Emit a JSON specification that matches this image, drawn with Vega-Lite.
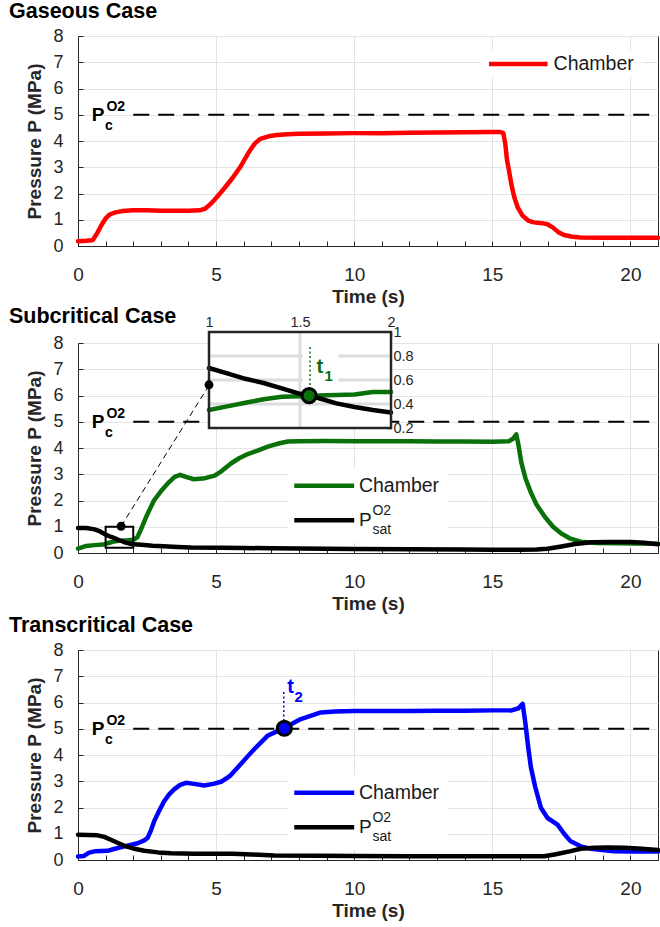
{
  "$schema": "https://vega.github.io/schema/vega-lite/v6.json",
  "background": "white",
  "padding": {"left": 8, "top": 0, "right": 3, "bottom": 5},
  "autosize": {"type": "pad"},
  "spacing": 97,
  "bounds": "flush",
  "config": {
    "font": "Liberation Sans",
    "view": {"stroke": "#262626", "strokeWidth": 1},
    "axis": {
      "labelFont": "Liberation Sans", "labelFontSize": 18, "labelColor": "#262626",
      "labelFlush": false, "labelOverlap": false, "labelBound": false,
      "titleFont": "Liberation Sans", "titleFontSize": 19, "titleFontWeight": "bold", "titleColor": "#262626",
      "domainColor": "#262626", "domainWidth": 1, "tickColor": "#262626", "tickSize": -5, "tickWidth": 1,
      "gridColor": "#e3e3e3", "gridWidth": 1
    },
    "axisX": {"labelPadding": 24, "titlePadding": 3, "labelFontSize": 19},
    "axisY": {"labelPadding": 20, "titlePadding": 8},
    "title": {"font": "Liberation Sans", "fontSize": 21.5, "fontWeight": "bold", "color": "black", "anchor": "start", "frame": "group", "dx": -69, "offset": 5},
    "line": {"strokeJoin": "round", "strokeCap": "round"}
  },
  "datasets": {
    "gas": [
      {"t":0,"p":0.18,"s":"Chamber"},{"t":0.3,"p":0.2,"s":"Chamber"},{"t":0.5,"p":0.22,"s":"Chamber"},{"t":0.55,"p":0.25,"s":"Chamber"},
      {"t":0.7,"p":0.5,"s":"Chamber"},{"t":0.85,"p":0.8,"s":"Chamber"},{"t":1.0,"p":1.05,"s":"Chamber"},{"t":1.15,"p":1.2,"s":"Chamber"},
      {"t":1.35,"p":1.28,"s":"Chamber"},{"t":1.6,"p":1.33,"s":"Chamber"},{"t":2.0,"p":1.36,"s":"Chamber"},{"t":2.5,"p":1.36,"s":"Chamber"},
      {"t":3.0,"p":1.34,"s":"Chamber"},{"t":3.5,"p":1.34,"s":"Chamber"},{"t":4.0,"p":1.34,"s":"Chamber"},{"t":4.4,"p":1.36,"s":"Chamber"},
      {"t":4.6,"p":1.42,"s":"Chamber"},{"t":4.8,"p":1.6,"s":"Chamber"},{"t":5.0,"p":1.83,"s":"Chamber"},{"t":5.3,"p":2.2,"s":"Chamber"},
      {"t":5.6,"p":2.6,"s":"Chamber"},{"t":5.9,"p":3.05,"s":"Chamber"},{"t":6.2,"p":3.6,"s":"Chamber"},{"t":6.4,"p":3.9,"s":"Chamber"},
      {"t":6.6,"p":4.08,"s":"Chamber"},{"t":6.9,"p":4.18,"s":"Chamber"},{"t":7.2,"p":4.23,"s":"Chamber"},{"t":7.6,"p":4.26,"s":"Chamber"},
      {"t":8.0,"p":4.28,"s":"Chamber"},{"t":9.0,"p":4.29,"s":"Chamber"},{"t":10,"p":4.3,"s":"Chamber"},{"t":11,"p":4.3,"s":"Chamber"},
      {"t":12,"p":4.31,"s":"Chamber"},{"t":13,"p":4.32,"s":"Chamber"},{"t":14,"p":4.33,"s":"Chamber"},{"t":15,"p":4.34,"s":"Chamber"},
      {"t":15.3,"p":4.34,"s":"Chamber"},{"t":15.4,"p":4.3,"s":"Chamber"},{"t":15.47,"p":3.9,"s":"Chamber"},{"t":15.53,"p":3.3,"s":"Chamber"},
      {"t":15.6,"p":2.9,"s":"Chamber"},{"t":15.7,"p":2.3,"s":"Chamber"},{"t":15.8,"p":1.85,"s":"Chamber"},{"t":15.93,"p":1.45,"s":"Chamber"},
      {"t":16.1,"p":1.15,"s":"Chamber"},{"t":16.3,"p":0.97,"s":"Chamber"},{"t":16.5,"p":0.9,"s":"Chamber"},{"t":16.8,"p":0.87,"s":"Chamber"},
      {"t":17.0,"p":0.83,"s":"Chamber"},{"t":17.2,"p":0.7,"s":"Chamber"},{"t":17.4,"p":0.52,"s":"Chamber"},{"t":17.6,"p":0.42,"s":"Chamber"},
      {"t":17.9,"p":0.35,"s":"Chamber"},{"t":18.2,"p":0.32,"s":"Chamber"},{"t":19,"p":0.31,"s":"Chamber"},{"t":20,"p":0.31,"s":"Chamber"},
      {"t":21,"p":0.31,"s":"Chamber"}
    ],
    "sub": [
      {"t":0,"p":0.17,"s":"Chamber"},{"t":0.3,"p":0.27,"s":"Chamber"},{"t":0.6,"p":0.3,"s":"Chamber"},{"t":0.9,"p":0.32,"s":"Chamber"},
      {"t":1.0,"p":0.35,"s":"Chamber"},{"t":1.1,"p":0.38,"s":"Chamber"},{"t":1.2,"p":0.41,"s":"Chamber"},{"t":1.3,"p":0.44,"s":"Chamber"},
      {"t":1.4,"p":0.46,"s":"Chamber"},{"t":1.5,"p":0.465,"s":"Chamber"},{"t":1.6,"p":0.47,"s":"Chamber"},{"t":1.7,"p":0.475,"s":"Chamber"},
      {"t":1.8,"p":0.48,"s":"Chamber"},{"t":1.9,"p":0.5,"s":"Chamber"},{"t":2.0,"p":0.5,"s":"Chamber"},{"t":2.15,"p":0.6,"s":"Chamber"},
      {"t":2.3,"p":0.95,"s":"Chamber"},{"t":2.5,"p":1.45,"s":"Chamber"},{"t":2.75,"p":2.0,"s":"Chamber"},{"t":3.0,"p":2.35,"s":"Chamber"},
      {"t":3.25,"p":2.65,"s":"Chamber"},{"t":3.5,"p":2.9,"s":"Chamber"},{"t":3.7,"p":2.98,"s":"Chamber"},{"t":3.9,"p":2.9,"s":"Chamber"},
      {"t":4.2,"p":2.81,"s":"Chamber"},{"t":4.6,"p":2.85,"s":"Chamber"},{"t":4.95,"p":2.95,"s":"Chamber"},{"t":5.2,"p":3.12,"s":"Chamber"},
      {"t":5.55,"p":3.42,"s":"Chamber"},{"t":5.85,"p":3.62,"s":"Chamber"},{"t":6.15,"p":3.77,"s":"Chamber"},{"t":6.5,"p":3.9,"s":"Chamber"},
      {"t":6.9,"p":4.06,"s":"Chamber"},{"t":7.3,"p":4.18,"s":"Chamber"},{"t":7.6,"p":4.25,"s":"Chamber"},{"t":8,"p":4.26,"s":"Chamber"},
      {"t":9,"p":4.27,"s":"Chamber"},{"t":10,"p":4.26,"s":"Chamber"},{"t":11,"p":4.26,"s":"Chamber"},{"t":12,"p":4.26,"s":"Chamber"},
      {"t":13,"p":4.25,"s":"Chamber"},{"t":14,"p":4.25,"s":"Chamber"},{"t":15,"p":4.24,"s":"Chamber"},{"t":15.6,"p":4.26,"s":"Chamber"},
      {"t":15.75,"p":4.35,"s":"Chamber"},{"t":15.87,"p":4.52,"s":"Chamber"},{"t":15.95,"p":4.1,"s":"Chamber"},{"t":16.05,"p":3.45,"s":"Chamber"},
      {"t":16.2,"p":2.85,"s":"Chamber"},{"t":16.4,"p":2.3,"s":"Chamber"},{"t":16.6,"p":1.85,"s":"Chamber"},{"t":16.9,"p":1.38,"s":"Chamber"},
      {"t":17.2,"p":1.0,"s":"Chamber"},{"t":17.5,"p":0.74,"s":"Chamber"},{"t":17.8,"p":0.56,"s":"Chamber"},{"t":18.2,"p":0.43,"s":"Chamber"},
      {"t":18.8,"p":0.38,"s":"Chamber"},{"t":19.5,"p":0.37,"s":"Chamber"},{"t":20.2,"p":0.36,"s":"Chamber"},{"t":21,"p":0.35,"s":"Chamber"},
      {"t":0,"p":0.95,"s":"Psat"},{"t":0.3,"p":0.95,"s":"Psat"},{"t":0.6,"p":0.9,"s":"Psat"},{"t":0.8,"p":0.82,"s":"Psat"},
      {"t":1.0,"p":0.7,"s":"Psat"},{"t":1.1,"p":0.655,"s":"Psat"},{"t":1.2,"p":0.61,"s":"Psat"},{"t":1.3,"p":0.575,"s":"Psat"},
      {"t":1.4,"p":0.53,"s":"Psat"},{"t":1.5,"p":0.485,"s":"Psat"},{"t":1.6,"p":0.45,"s":"Psat"},{"t":1.7,"p":0.405,"s":"Psat"},
      {"t":1.8,"p":0.375,"s":"Psat"},{"t":1.9,"p":0.35,"s":"Psat"},{"t":2.0,"p":0.33,"s":"Psat"},{"t":2.3,"p":0.31,"s":"Psat"},
      {"t":2.7,"p":0.28,"s":"Psat"},{"t":3.1,"p":0.26,"s":"Psat"},{"t":3.6,"p":0.23,"s":"Psat"},{"t":4.1,"p":0.21,"s":"Psat"},
      {"t":5.2,"p":0.2,"s":"Psat"},{"t":6,"p":0.19,"s":"Psat"},{"t":7,"p":0.18,"s":"Psat"},{"t":8,"p":0.17,"s":"Psat"},
      {"t":10,"p":0.15,"s":"Psat"},{"t":12,"p":0.14,"s":"Psat"},{"t":14,"p":0.13,"s":"Psat"},{"t":15,"p":0.12,"s":"Psat"},
      {"t":16,"p":0.12,"s":"Psat"},{"t":16.6,"p":0.13,"s":"Psat"},{"t":17,"p":0.16,"s":"Psat"},{"t":17.5,"p":0.25,"s":"Psat"},
      {"t":18,"p":0.34,"s":"Psat"},{"t":18.6,"p":0.41,"s":"Psat"},{"t":19.2,"p":0.42,"s":"Psat"},{"t":20,"p":0.42,"s":"Psat"},
      {"t":20.5,"p":0.39,"s":"Psat"},{"t":21,"p":0.33,"s":"Psat"}
    ],
    "trans": [
      {"t":0,"p":0.13,"s":"Chamber"},{"t":0.2,"p":0.15,"s":"Chamber"},{"t":0.4,"p":0.28,"s":"Chamber"},{"t":0.6,"p":0.33,"s":"Chamber"},
      {"t":1.07,"p":0.35,"s":"Chamber"},{"t":1.3,"p":0.42,"s":"Chamber"},{"t":1.68,"p":0.52,"s":"Chamber"},{"t":2.16,"p":0.64,"s":"Chamber"},
      {"t":2.4,"p":0.75,"s":"Chamber"},{"t":2.52,"p":0.84,"s":"Chamber"},{"t":2.65,"p":1.15,"s":"Chamber"},{"t":2.76,"p":1.48,"s":"Chamber"},
      {"t":2.95,"p":1.9,"s":"Chamber"},{"t":3.12,"p":2.24,"s":"Chamber"},{"t":3.3,"p":2.5,"s":"Chamber"},{"t":3.48,"p":2.69,"s":"Chamber"},
      {"t":3.7,"p":2.86,"s":"Chamber"},{"t":3.91,"p":2.94,"s":"Chamber"},{"t":4.2,"p":2.9,"s":"Chamber"},{"t":4.57,"p":2.84,"s":"Chamber"},
      {"t":4.9,"p":2.9,"s":"Chamber"},{"t":5.18,"p":2.98,"s":"Chamber"},{"t":5.5,"p":3.2,"s":"Chamber"},{"t":5.78,"p":3.52,"s":"Chamber"},
      {"t":6.1,"p":3.9,"s":"Chamber"},{"t":6.38,"p":4.22,"s":"Chamber"},{"t":6.6,"p":4.45,"s":"Chamber"},{"t":6.86,"p":4.73,"s":"Chamber"},
      {"t":7.2,"p":4.9,"s":"Chamber"},{"t":7.47,"p":5.03,"s":"Chamber"},{"t":7.8,"p":5.22,"s":"Chamber"},{"t":8.07,"p":5.37,"s":"Chamber"},
      {"t":8.5,"p":5.52,"s":"Chamber"},{"t":8.79,"p":5.62,"s":"Chamber"},{"t":9.3,"p":5.66,"s":"Chamber"},{"t":10,"p":5.68,"s":"Chamber"},
      {"t":11,"p":5.68,"s":"Chamber"},{"t":12,"p":5.68,"s":"Chamber"},{"t":13,"p":5.69,"s":"Chamber"},{"t":14,"p":5.69,"s":"Chamber"},
      {"t":15,"p":5.7,"s":"Chamber"},{"t":15.7,"p":5.7,"s":"Chamber"},{"t":15.95,"p":5.78,"s":"Chamber"},{"t":16.1,"p":5.95,"s":"Chamber"},
      {"t":16.2,"p":5.2,"s":"Chamber"},{"t":16.3,"p":4.3,"s":"Chamber"},{"t":16.4,"p":3.52,"s":"Chamber"},{"t":16.55,"p":2.8,"s":"Chamber"},
      {"t":16.76,"p":1.99,"s":"Chamber"},{"t":17.0,"p":1.6,"s":"Chamber"},{"t":17.36,"p":1.35,"s":"Chamber"},{"t":17.6,"p":1.0,"s":"Chamber"},
      {"t":17.84,"p":0.71,"s":"Chamber"},{"t":18.2,"p":0.52,"s":"Chamber"},{"t":18.57,"p":0.43,"s":"Chamber"},{"t":19.4,"p":0.33,"s":"Chamber"},
      {"t":20,"p":0.32,"s":"Chamber"},{"t":21,"p":0.32,"s":"Chamber"},
      {"t":0,"p":0.96,"s":"Psat"},{"t":0.71,"p":0.94,"s":"Psat"},{"t":0.95,"p":0.88,"s":"Psat"},{"t":1.19,"p":0.77,"s":"Psat"},
      {"t":1.45,"p":0.65,"s":"Psat"},{"t":1.68,"p":0.54,"s":"Psat"},{"t":2.0,"p":0.44,"s":"Psat"},{"t":2.4,"p":0.35,"s":"Psat"},
      {"t":2.9,"p":0.29,"s":"Psat"},{"t":3.37,"p":0.26,"s":"Psat"},{"t":4.2,"p":0.24,"s":"Psat"},{"t":5.6,"p":0.24,"s":"Psat"},
      {"t":6.3,"p":0.21,"s":"Psat"},{"t":7.1,"p":0.17,"s":"Psat"},{"t":8.8,"p":0.16,"s":"Psat"},{"t":10,"p":0.15,"s":"Psat"},
      {"t":12,"p":0.14,"s":"Psat"},{"t":14,"p":0.14,"s":"Psat"},{"t":16,"p":0.14,"s":"Psat"},{"t":16.88,"p":0.14,"s":"Psat"},
      {"t":17.3,"p":0.22,"s":"Psat"},{"t":17.8,"p":0.33,"s":"Psat"},{"t":18.2,"p":0.43,"s":"Psat"},{"t":18.7,"p":0.47,"s":"Psat"},
      {"t":19.17,"p":0.48,"s":"Psat"},{"t":19.8,"p":0.47,"s":"Psat"},{"t":20.4,"p":0.43,"s":"Psat"},{"t":21,"p":0.38,"s":"Psat"}
    ]
  },
  "vconcat": [
    {
      "width": 580, "height": 210,
      "title": {"text": "Gaseous Case"},
      "layer": [
        {"data": {"name": "gas"}, "mark": {"type": "line", "strokeWidth": 4.5, "color": "#ff0000"},
         "encoding": {
           "x": {"field": "t", "type": "quantitative", "scale": {"domain": [0, 21], "nice": false, "zero": false},
                 "axis": {"title": "Time (s)", "format": "d", "tickCount": 30, "values": [0,1,2,3,4,5,6,7,8,9,10,11,12,13,14,15,16,17,18,19,20,21], "labelExpr": "datum.value % 5 === 0 ? datum.label : ''", "gridOpacity": {"condition": {"test": "datum.value % 5 === 0", "value": 1}, "value": 0}}},
           "y": {"field": "p", "type": "quantitative", "scale": {"domain": [0, 8], "nice": false, "zero": false},
                 "axis": {"title": "Pressure P (MPa)", "format": "d", "tickCount": 12, "values": [0,1,2,3,4,5,6,7,8]}}
         }},
        {"data": {"values": [{}]}, "mark": {"type": "rule", "strokeWidth": 2, "strokeDash": [16, 9], "color": "black"},
         "encoding": {"x": {"datum": 2.0}, "x2": {"datum": 21}, "y": {"datum": 5}}},
        {"data": {"values": [{}]}, "mark": {"type": "text", "text": "P", "fontSize": 19, "fontWeight": "bold", "align": "left", "baseline": "middle", "color": "black"},
         "encoding": {"x": {"datum": 0.5}, "y": {"datum": 5.0}}},
        {"data": {"values": [{}]}, "mark": {"type": "text", "text": "c", "fontSize": 14, "fontWeight": "bold", "align": "left", "baseline": "middle", "color": "black"},
         "encoding": {"x": {"datum": 0.98}, "y": {"datum": 4.58}}},
        {"data": {"values": [{}]}, "mark": {"type": "text", "text": "O2", "fontSize": 14, "fontWeight": "bold", "align": "left", "baseline": "middle", "color": "black"},
         "encoding": {"x": {"datum": 1.03}, "y": {"datum": 5.3}}},
        {"data": {"values": [{}]}, "mark": {"type": "rect", "fill": "white"},
         "encoding": {"x": {"datum": 14.6}, "x2": {"datum": 20.4}, "y": {"datum": 6.45}, "y2": {"datum": 7.45}}},
        {"data": {"values": [{}]}, "mark": {"type": "rule", "strokeWidth": 4.5, "color": "#ff0000"},
         "encoding": {"x": {"datum": 14.88}, "x2": {"datum": 17.0}, "y": {"datum": 6.93}}},
        {"data": {"values": [{}]}, "mark": {"type": "text", "text": "Chamber", "fontSize": 19.5, "align": "left", "baseline": "middle", "color": "#1a1a1a"},
         "encoding": {"x": {"datum": 17.22}, "y": {"datum": 6.93}}}
      ]
    },
    {
      "width": 580, "height": 210,
      "title": {"text": "Subcritical Case", "dy": 18},
      "resolve": {"scale": {"x": "independent", "y": "independent", "color": "independent"}},
      "layer": [
        {
          "layer": [
            {"data": {"name": "sub"}, "mark": {"type": "line", "strokeWidth": 4.5},
             "encoding": {
               "x": {"field": "t", "type": "quantitative", "scale": {"domain": [0, 21], "nice": false, "zero": false},
                     "axis": {"title": "Time (s)", "format": "d", "tickCount": 30, "values": [0,1,2,3,4,5,6,7,8,9,10,11,12,13,14,15,16,17,18,19,20,21], "labelExpr": "datum.value % 5 === 0 ? datum.label : ''", "gridOpacity": {"condition": {"test": "datum.value % 5 === 0", "value": 1}, "value": 0}}},
               "y": {"field": "p", "type": "quantitative", "scale": {"domain": [0, 8], "nice": false, "zero": false},
                     "axis": {"title": "Pressure P (MPa)", "format": "d", "tickCount": 12, "values": [0,1,2,3,4,5,6,7,8]}},
               "color": {"field": "s", "type": "nominal", "scale": {"domain": ["Chamber", "Psat"], "range": ["#0a700a", "#000000"]}, "legend": null}
             }},
            {"data": {"values": [{}]}, "mark": {"type": "rule", "strokeWidth": 2, "strokeDash": [16, 9], "color": "black"},
             "encoding": {"x": {"datum": 2.0}, "x2": {"datum": 21}, "y": {"datum": 5}}},
            {"data": {"values": [{}]}, "mark": {"type": "text", "text": "P", "fontSize": 19, "fontWeight": "bold", "align": "left", "baseline": "middle", "color": "black"},
             "encoding": {"x": {"datum": 0.5}, "y": {"datum": 5.0}}},
            {"data": {"values": [{}]}, "mark": {"type": "text", "text": "c", "fontSize": 14, "fontWeight": "bold", "align": "left", "baseline": "middle", "color": "black"},
             "encoding": {"x": {"datum": 0.98}, "y": {"datum": 4.58}}},
            {"data": {"values": [{}]}, "mark": {"type": "text", "text": "O2", "fontSize": 14, "fontWeight": "bold", "align": "left", "baseline": "middle", "color": "black"},
             "encoding": {"x": {"datum": 1.03}, "y": {"datum": 5.3}}},
            {"data": {"values": [{}]}, "mark": {"type": "rect", "fill": "white"},
             "encoding": {"x": {"datum": 7.6}, "x2": {"datum": 13.4}, "y": {"datum": 0.4}, "y2": {"datum": 3.25}}},
            {"data": {"values": [{}]}, "mark": {"type": "rule", "strokeWidth": 4.5, "color": "#0a700a"},
             "encoding": {"x": {"datum": 7.83}, "x2": {"datum": 10.0}, "y": {"datum": 2.56}}},
            {"data": {"values": [{}]}, "mark": {"type": "rule", "strokeWidth": 4.5, "color": "black"},
             "encoding": {"x": {"datum": 7.83}, "x2": {"datum": 10.0}, "y": {"datum": 1.25}}},
            {"data": {"values": [{}]}, "mark": {"type": "text", "text": "Chamber", "fontSize": 19.5, "align": "left", "baseline": "middle", "color": "#1a1a1a"},
             "encoding": {"x": {"datum": 10.17}, "y": {"datum": 2.56}}},
            {"data": {"values": [{}]}, "mark": {"type": "text", "text": "P", "fontSize": 19, "align": "left", "baseline": "middle", "color": "#1a1a1a"},
             "encoding": {"x": {"datum": 10.17}, "y": {"datum": 1.25}}},
            {"data": {"values": [{}]}, "mark": {"type": "text", "text": "O2", "fontSize": 14, "align": "left", "baseline": "middle", "color": "#1a1a1a"},
             "encoding": {"x": {"datum": 10.66}, "y": {"datum": 1.6}}},
            {"data": {"values": [{}]}, "mark": {"type": "text", "text": "sat", "fontSize": 14, "align": "left", "baseline": "middle", "color": "#1a1a1a"},
             "encoding": {"x": {"datum": 10.66}, "y": {"datum": 0.86}}},
            {"data": {"values": [{}]}, "mark": {"type": "rect", "fill": null, "stroke": "black", "strokeWidth": 2},
             "encoding": {"x": {"datum": 1}, "x2": {"datum": 2}, "y": {"datum": 0.2}, "y2": {"datum": 1.0}}},
            {"data": {"values": [{}]}, "mark": {"type": "rule", "strokeWidth": 1, "strokeDash": [6, 4], "color": "black"},
             "encoding": {"x": {"datum": 1.56}, "y": {"datum": 1.02}, "x2": {"datum": 4.75}, "y2": {"datum": 6.4}}},
            {"data": {"values": [{}]}, "mark": {"type": "point", "filled": true, "size": 80, "color": "black", "opacity": 1},
             "encoding": {"x": {"datum": 1.56}, "y": {"datum": 1.02}}}
          ]
        },
        {
          "layer": [
            {"data": {"values": [{}]}, "mark": {"type": "rect", "fill": "white"},
             "encoding": {
               "x": {"datum": 1, "type": "quantitative", "scale": {"domain": [1, 2], "range": [131, 313], "nice": false, "zero": false},
                     "axis": {"orient": "top", "offset": 11, "values": [1, 1.5, 2], "format": "~g", "title": null, "grid": false, "domain": false, "labelFontSize": 14.5, "tickSize": -4, "tickWidth": 1.5, "labelPadding": 7}},
               "x2": {"datum": 2},
               "y": {"datum": 0.2, "type": "quantitative", "scale": {"domain": [0.2, 1], "range": [85, -11], "nice": false, "zero": false},
                     "axis": {"orient": "right", "offset": -267, "values": [0.2, 0.4, 0.6, 0.8, 1], "tickCount": 10, "format": "~g", "title": null, "grid": false, "domain": false, "labelFontSize": 14.5, "tickSize": -4, "tickWidth": 1.5, "labelPadding": 6}},
               "y2": {"datum": 1}
             }},
            {"data": {"values": [{"g": 0.4}, {"g": 0.6}, {"g": 0.8}]}, "mark": {"type": "rule", "strokeWidth": 3, "color": "#dcdcdc"},
             "encoding": {"x": {"datum": 1}, "x2": {"datum": 2}, "y": {"field": "g", "type": "quantitative"}}},
            {"data": {"values": [{}]}, "mark": {"type": "rule", "strokeWidth": 3, "color": "#dcdcdc"},
             "encoding": {"x": {"datum": 1.5}, "y": {"datum": 0.2}, "y2": {"datum": 1}}},
            {"data": {"values": [{}]}, "mark": {"type": "rect", "fill": "white"},
             "encoding": {"x": {"datum": 1.515}, "x2": {"datum": 1.71}, "y": {"datum": 0.56}, "y2": {"datum": 0.86}}},
            {"data": {"name": "sub"}, "transform": [{"filter": "datum.t >= 1 && datum.t <= 2"}],
             "mark": {"type": "line", "strokeWidth": 4.5},
             "encoding": {
               "x": {"field": "t", "type": "quantitative"},
               "y": {"field": "p", "type": "quantitative"},
               "color": {"field": "s", "type": "nominal", "scale": {"domain": ["Chamber", "Psat"], "range": ["#0a700a", "#000000"]}, "legend": null}
             }},
            {"data": {"values": [{}]}, "mark": {"type": "rule", "strokeWidth": 1.5, "strokeDash": [2, 2.5], "color": "#0a700a"},
             "encoding": {"x": {"datum": 1.555}, "y": {"datum": 0.52}, "y2": {"datum": 0.89}}},
            {"data": {"values": [{}]}, "mark": {"type": "point", "filled": true, "size": 200, "fill": "#0a700a", "stroke": "black", "strokeWidth": 3, "opacity": 1},
             "encoding": {"x": {"datum": 1.55}, "y": {"datum": 0.47}}},
            {"data": {"values": [{}]}, "mark": {"type": "text", "text": "t", "fontSize": 20, "fontWeight": "bold", "align": "left", "baseline": "middle", "color": "#0a700a"},
             "encoding": {"x": {"datum": 1.59}, "y": {"datum": 0.71}}},
            {"data": {"values": [{}]}, "mark": {"type": "text", "text": "1", "fontSize": 15, "fontWeight": "bold", "align": "left", "baseline": "middle", "color": "#0a700a"},
             "encoding": {"x": {"datum": 1.634}, "y": {"datum": 0.63}}},
            {"data": {"values": [{}]}, "mark": {"type": "rect", "fill": null, "stroke": "#262626", "strokeWidth": 2.5},
             "encoding": {"x": {"datum": 1}, "x2": {"datum": 2}, "y": {"datum": 0.2}, "y2": {"datum": 1}}},
            {"data": {"values": [{}]}, "mark": {"type": "point", "filled": true, "size": 80, "color": "black", "opacity": 1},
             "encoding": {"x": {"datum": 1.0}, "y": {"datum": 0.56}}}
          ]
        }
      ]
    },
    {
      "width": 580, "height": 210,
      "title": {"text": "Transcritical Case"},
      "layer": [
        {"data": {"name": "trans"}, "mark": {"type": "line", "strokeWidth": 4.5},
         "encoding": {
           "x": {"field": "t", "type": "quantitative", "scale": {"domain": [0, 21], "nice": false, "zero": false},
                 "axis": {"title": "Time (s)", "format": "d", "tickCount": 30, "values": [0,1,2,3,4,5,6,7,8,9,10,11,12,13,14,15,16,17,18,19,20,21], "labelExpr": "datum.value % 5 === 0 ? datum.label : ''", "gridOpacity": {"condition": {"test": "datum.value % 5 === 0", "value": 1}, "value": 0}}},
           "y": {"field": "p", "type": "quantitative", "scale": {"domain": [0, 8], "nice": false, "zero": false},
                 "axis": {"title": "Pressure P (MPa)", "format": "d", "tickCount": 12, "values": [0,1,2,3,4,5,6,7,8]}},
           "color": {"field": "s", "type": "nominal", "scale": {"domain": ["Chamber", "Psat"], "range": ["#0000ff", "#000000"]}, "legend": null}
         }},
        {"data": {"values": [{}]}, "mark": {"type": "rule", "strokeWidth": 2, "strokeDash": [16, 9], "color": "black"},
         "encoding": {"x": {"datum": 2.0}, "x2": {"datum": 21}, "y": {"datum": 5}}},
        {"data": {"values": [{}]}, "mark": {"type": "text", "text": "P", "fontSize": 19, "fontWeight": "bold", "align": "left", "baseline": "middle", "color": "black"},
         "encoding": {"x": {"datum": 0.5}, "y": {"datum": 5.0}}},
        {"data": {"values": [{}]}, "mark": {"type": "text", "text": "c", "fontSize": 14, "fontWeight": "bold", "align": "left", "baseline": "middle", "color": "black"},
         "encoding": {"x": {"datum": 0.98}, "y": {"datum": 4.58}}},
        {"data": {"values": [{}]}, "mark": {"type": "text", "text": "O2", "fontSize": 14, "fontWeight": "bold", "align": "left", "baseline": "middle", "color": "black"},
         "encoding": {"x": {"datum": 1.03}, "y": {"datum": 5.3}}},
        {"data": {"values": [{}]}, "mark": {"type": "rule", "strokeWidth": 1.5, "strokeDash": [2, 2.5], "color": "#0000ff"},
         "encoding": {"x": {"datum": 7.45}, "y": {"datum": 5.3}, "y2": {"datum": 6.45}}},
        {"data": {"values": [{}]}, "mark": {"type": "point", "filled": true, "size": 200, "fill": "#0000ff", "stroke": "black", "strokeWidth": 3, "opacity": 1},
         "encoding": {"x": {"datum": 7.47}, "y": {"datum": 5.02}}},
        {"data": {"values": [{}]}, "mark": {"type": "text", "text": "t", "fontSize": 20, "fontWeight": "bold", "align": "left", "baseline": "middle", "color": "#0000ff"},
         "encoding": {"x": {"datum": 7.58}, "y": {"datum": 6.58}}},
        {"data": {"values": [{}]}, "mark": {"type": "text", "text": "2", "fontSize": 15, "fontWeight": "bold", "align": "left", "baseline": "middle", "color": "#0000ff"},
         "encoding": {"x": {"datum": 7.84}, "y": {"datum": 6.2}}},
        {"data": {"values": [{}]}, "mark": {"type": "rect", "fill": "white"},
         "encoding": {"x": {"datum": 7.6}, "x2": {"datum": 13.4}, "y": {"datum": 0.4}, "y2": {"datum": 3.25}}},
        {"data": {"values": [{}]}, "mark": {"type": "rule", "strokeWidth": 4.5, "color": "#0000ff"},
         "encoding": {"x": {"datum": 7.83}, "x2": {"datum": 10.0}, "y": {"datum": 2.56}}},
        {"data": {"values": [{}]}, "mark": {"type": "rule", "strokeWidth": 4.5, "color": "black"},
         "encoding": {"x": {"datum": 7.83}, "x2": {"datum": 10.0}, "y": {"datum": 1.25}}},
        {"data": {"values": [{}]}, "mark": {"type": "text", "text": "Chamber", "fontSize": 19.5, "align": "left", "baseline": "middle", "color": "#1a1a1a"},
         "encoding": {"x": {"datum": 10.17}, "y": {"datum": 2.56}}},
        {"data": {"values": [{}]}, "mark": {"type": "text", "text": "P", "fontSize": 19, "align": "left", "baseline": "middle", "color": "#1a1a1a"},
         "encoding": {"x": {"datum": 10.17}, "y": {"datum": 1.25}}},
        {"data": {"values": [{}]}, "mark": {"type": "text", "text": "O2", "fontSize": 14, "align": "left", "baseline": "middle", "color": "#1a1a1a"},
         "encoding": {"x": {"datum": 10.66}, "y": {"datum": 1.6}}},
        {"data": {"values": [{}]}, "mark": {"type": "text", "text": "sat", "fontSize": 14, "align": "left", "baseline": "middle", "color": "#1a1a1a"},
         "encoding": {"x": {"datum": 10.66}, "y": {"datum": 0.86}}}
      ]
    }
  ]
}
